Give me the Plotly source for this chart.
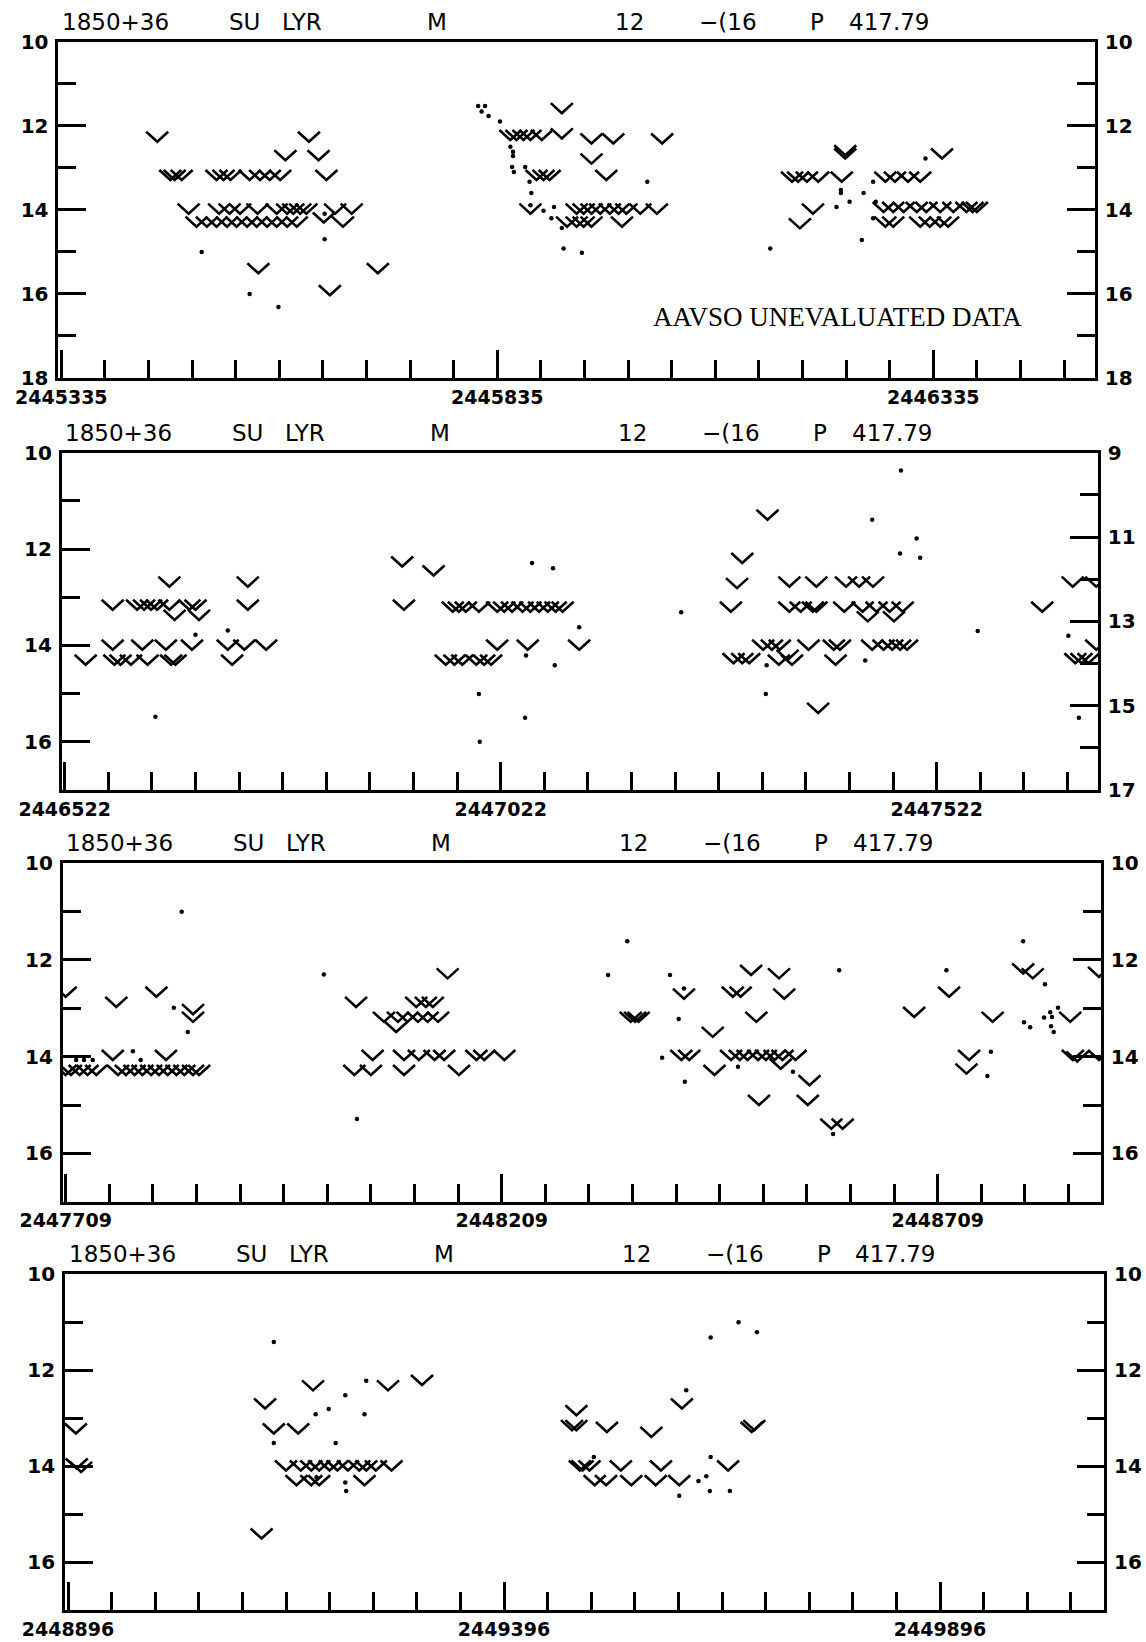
import plotly.graph_objects as go

W, H = 1146, 1642
PXD = 0.872  # pixels per day (layout only)

# ---------------- data ----------------
panel_starts = [2445335, 2446522, 2447709, 2448896]
x_tick_labels = [["2445335", "2445835", "2446335"],
                 ["2446522", "2447022", "2447522"],
                 ["2447709", "2448209", "2448709"],
                 ["2448896", "2449396", "2449896"]]
left_ranges = [(18, 10), (17, 10), (17, 10), (17, 10)]
right_ranges = [(18, 10), (17, 9), (17, 10), (17, 10)]
header_words = ["1850+36", "SU", "LYR", "M", "12", "\u2212(16", "P", "417.79"]
note_text = "AAVSO UNEVALUATED DATA"

# panel 1 : fainter-than (V) observations, days after panel start
p1_v_day = [110, 125, 130, 138, 178, 186, 194, 216, 228, 239, 251, 257, 284, 295, 304,
            146, 181, 193, 205, 225, 247, 259, 266, 274, 281, 314, 333,
            155, 167, 178, 190, 201, 213, 224, 236, 247, 259, 270, 301, 323,
            226, 308, 363,
            574, 515, 522, 530, 538, 551, 574, 608, 633, 689, 608, 545, 553, 560, 625, 538,
            591, 599, 608, 618, 629, 639, 648, 664, 683,
            580, 591, 599, 608, 643,
            838, 845, 855, 868, 899, 899, 895, 847, 862, 1010,
            945, 956, 971, 985,
            943, 954, 966, 981, 992, 1008, 1023, 1038, 1045, 1050,
            945, 954, 985, 996, 1008, 1017]
p1_v_mag = [12.38, 13.29, 13.29, 13.29, 13.29, 13.29, 13.29, 13.29, 13.29, 13.29, 13.29, 12.82, 12.38, 12.82, 13.29,
            14.09, 14.09, 14.09, 14.09, 14.09, 14.09, 14.09, 14.09, 14.09, 14.09, 14.09, 14.09,
            14.40, 14.40, 14.40, 14.40, 14.40, 14.40, 14.40, 14.40, 14.40, 14.40, 14.40, 14.30, 14.40,
            15.51, 16.03, 15.51,
            11.70, 12.34, 12.34, 12.34, 12.34, 12.34, 12.30, 12.42, 12.42, 12.42, 12.90, 13.29, 13.29, 13.29, 13.29, 14.09,
            14.09, 14.09, 14.09, 14.09, 14.09, 14.09, 14.09, 14.09, 14.09,
            14.40, 14.40, 14.40, 14.40, 14.40,
            13.33, 13.33, 13.33, 13.33, 12.78, 12.70, 13.33, 14.44, 14.09, 12.78,
            13.33, 13.33, 13.33, 13.33,
            14.05, 14.05, 14.05, 14.05, 14.05, 14.05, 14.05, 14.05, 14.05, 14.05,
            14.40, 14.40, 14.40, 14.40, 14.40, 14.40]
p1_dot_day = [161, 216, 249, 302, 302,
              478, 486, 482, 490, 503, 515, 518, 518, 517, 519, 532, 537, 539, 538, 553, 565, 562, 574, 576, 597, 672, 813,
              889, 894, 894, 904, 920, 918, 931, 934, 931, 991]
p1_dot_mag = [15.00, 16.00, 16.31, 14.09, 14.70,
              11.53, 11.53, 11.66, 11.77, 11.90, 12.50, 12.62, 12.72, 12.98, 13.10, 12.98, 13.33, 13.60, 13.89, 14.02, 13.93, 14.20, 14.43, 14.92, 15.02, 13.33, 14.92,
              13.93, 13.53, 13.60, 13.81, 13.60, 14.72, 13.33, 13.81, 14.20, 12.78]

# panel 2
p2_v_day = [24,
            55, 83, 91, 99, 106, 120, 143, 150, 210,
            126, 154, 120, 210,
            55, 89, 116, 146, 187, 206, 231,
            57, 64, 76, 95, 122, 127, 192,
            387, 389, 423,
            445, 452, 460, 475, 496, 504, 513, 525, 534, 544, 554, 563, 571,
            437, 447, 456, 472, 481, 489,
            496, 531, 590,
            764, 771, 777, 806,
            767, 777, 785, 801, 811, 820, 829,
            831, 862, 896, 911, 927,
            831, 844, 858, 862, 894, 915, 931, 946, 961,
            921, 951,
            853, 882, 889, 926, 939, 949, 958, 966,
            819, 834, 884, 864,
            1121, 1156, 1183, 1183, 1159, 1166, 1174]
p2_v_mag = [14.40,
            13.26, 13.26, 13.26, 13.26, 13.26, 13.26, 13.26, 13.26, 13.26,
            13.47, 13.47, 12.78, 12.78,
            14.09, 14.09, 14.09, 14.09, 14.09, 14.09, 14.09,
            14.40, 14.40, 14.40, 14.40, 14.40, 14.40, 14.40,
            12.36, 13.26, 12.55,
            13.30, 13.30, 13.30, 13.30, 13.30, 13.30, 13.30, 13.30, 13.30, 13.30, 13.30, 13.30, 13.30,
            14.40, 14.40, 14.40, 14.40, 14.40, 14.40,
            14.09, 14.09, 14.09,
            13.30, 12.81, 12.29, 11.39,
            14.37, 14.37, 14.37, 14.09, 14.09, 14.09, 14.30,
            12.78, 12.78, 12.78, 12.78, 12.78,
            13.30, 13.30, 13.30, 13.30, 13.30, 13.30, 13.30, 13.30, 13.30,
            13.50, 13.50,
            14.09, 14.09, 14.09, 14.09, 14.09, 14.09, 14.09, 14.09,
            14.40, 14.40, 14.40, 15.40,
            13.30, 12.78, 12.78, 14.09, 14.37, 14.37, 14.37]
p2_dot_day = [187, 104, 150, 536, 560, 590, 529, 562, 475, 528, 476, 707, 805, 804,
              959, 926, 977, 958, 981, 918, 1047, 1151, 1163]
p2_dot_mag = [13.69, 15.48, 13.78, 12.29, 12.40, 13.62, 14.21, 14.41, 15.01, 15.50, 16.00, 13.31, 14.41, 15.01,
              10.37, 11.39, 11.78, 12.09, 12.18, 14.31, 13.70, 13.80, 15.50]

# panel 3
p3_v_day = [0, 58, 104, 146, 146,
            0, 6, 16, 25, 35, 60, 69, 79, 88, 98, 107, 117, 127, 136, 146, 153,
            54, 115, 333,
            365, 381, 392, 404, 415, 427, 379,
            402, 413, 421,
            352, 388, 405, 423, 434, 471, 480, 503,
            331, 350, 388, 451, 438,
            648, 653, 657,
            709, 765, 774, 786, 818, 824, 792, 742,
            706, 715, 763, 773, 782, 794, 803, 813, 822, 837,
            744, 820, 795,
            853, 851, 878, 891, 973, 1013, 1063, 1036, 1033, 1098, 1109, 1152, 1185, 1155, 1185, 1160]
p3_v_mag = [12.76, 12.97, 12.76, 13.28, 13.12,
            14.38, 14.38, 14.38, 14.38, 14.38, 14.38, 14.38, 14.38, 14.38, 14.38, 14.38, 14.38, 14.38, 14.38, 14.38, 14.38,
            14.07, 14.07, 12.97,
            13.28, 13.28, 13.28, 13.28, 13.28, 13.28, 13.49,
            12.97, 12.97, 12.97,
            14.07, 14.07, 14.07, 14.07, 14.07, 14.07, 14.07, 14.07,
            14.38, 14.38, 14.38, 14.38, 12.38,
            13.28, 13.28, 13.28,
            12.80, 12.76, 12.76, 12.31, 12.38, 12.80, 13.28, 13.59,
            14.07, 14.07, 14.07, 14.07, 14.07, 14.07, 14.07, 14.07, 14.07, 14.07,
            14.38, 14.25, 15.00,
            14.59, 15.00, 15.49, 15.49, 13.18, 12.76, 13.28, 14.07, 14.35, 12.28, 12.38, 13.28, 12.35, 14.07, 14.07, 14.10]
p3_dot_day = [133, 124, 140, 77, 86, 21, 31, 12, 296, 334,
              644, 622, 693, 709, 703, 684, 710, 771, 834, 880, 887, 1010, 1061, 1057,
              1098, 1123, 1099, 1106, 1122, 1129, 1138, 1130, 1133, 1131]
p3_dot_mag = [11.00, 12.99, 13.49, 13.89, 14.07, 14.07, 14.07, 14.07, 12.30, 15.29,
              11.61, 12.31, 12.31, 12.59, 13.22, 14.02, 14.52, 14.21, 14.31, 15.60, 12.21, 12.21, 13.90, 14.40,
              11.61, 12.50, 13.29, 13.39, 13.19, 13.08, 12.99, 13.37, 13.49, 13.18]

# panel 4
p4_v_day = [9, 15, 10,
            226, 236, 264, 281, 222, 367, 406,
            250, 267, 279, 288, 300, 309, 321, 334, 342, 353, 371,
            262, 279, 288, 340,
            583, 583, 578, 618, 669, 704, 784, 787,
            587, 590, 598, 634, 680, 757,
            604, 617, 646, 674, 701]
p4_v_mag = [13.32, 14.12, 14.05,
            12.80, 13.32, 13.32, 12.42, 15.51, 12.42, 12.31,
            14.09, 14.09, 14.09, 14.09, 14.09, 14.09, 14.09, 14.09, 14.09, 14.09, 14.09,
            14.40, 14.40, 14.40, 14.40,
            12.94, 13.25, 13.25, 13.29, 13.39, 12.80, 13.29, 13.25,
            14.09, 14.09, 14.09, 14.09, 14.09, 14.09,
            14.40, 14.40, 14.40, 14.40, 14.40]
p4_dot_day = [236, 236, 284, 299, 318, 342, 340, 307, 318, 319, 285,
              709, 737, 769, 790, 603, 737, 701, 723, 732, 736, 759]
p4_dot_mag = [11.41, 13.52, 12.92, 12.81, 12.52, 12.22, 12.92, 13.52, 14.34, 14.52, 14.23,
              12.42, 11.32, 11.00, 11.21, 13.81, 13.81, 14.62, 14.31, 14.21, 14.52, 14.52]

v_days = [p1_v_day, p2_v_day, p3_v_day, p4_v_day]
v_mags = [p1_v_mag, p2_v_mag, p3_v_mag, p4_v_mag]
dot_days = [p1_dot_day, p2_dot_day, p3_dot_day, p4_dot_day]
dot_mags = [p1_dot_mag, p2_dot_mag, p3_dot_mag, p4_dot_mag]

# ---------------- layout geometry (pixels) ----------------
panels_px = [(58.3, 1095.0, 41.7, 378.0),
             (61.7, 1098.0, 452.7, 790.0),
             (62.7, 1101.0, 863.3, 1201.7),
             (65.0, 1104.3, 1274.3, 1610.0)]
header_dx = [1.7, 168.7, 221.7, 366.7, 554.7, 638.7, 749.7, 788.4]


def fx(px):
    return px / W


def fy(py):
    return 1 - py / H


BLACK = "black"
tick_font_x = dict(family="DejaVu Sans", size=19, color=BLACK, weight="bold")
tick_font_y = dict(family="DejaVu Sans", size=20, color=BLACK, weight="bold")

fig = go.Figure()
layout = dict(width=W, height=H, margin=dict(l=0, r=0, t=0, b=0, autoexpand=False),
              paper_bgcolor="white", plot_bgcolor="white", showlegend=False)
annotations = []

V_HALF_PX, V_H_PX = 11.0, 10.0

for i in range(4):
    L, R, T, B = panels_px[i]
    start = panel_starts[i]
    xa = "x" if i == 0 else f"x{i+1}"
    ya = "y" if i == 0 else f"y{i+1}"
    lo, hi = left_ranges[i]
    ppm = (B - T) / (lo - hi)
    half_w = V_HALF_PX / PXD
    vh = V_H_PX / ppm

    xs, ys = [], []
    for d, m in zip(v_days[i], v_mags[i]):
        x = start + d
        xs += [x - half_w, x, x + half_w, None]
        ys += [m - vh, m, m - vh, None]
    fig.add_trace(go.Scatter(x=xs, y=ys, mode="lines", xaxis=xa, yaxis=ya,
                             line=dict(color=BLACK, width=2.6), hoverinfo="skip"))
    fig.add_trace(go.Scatter(x=[start + d for d in dot_days[i]], y=dot_mags[i], mode="markers",
                             xaxis=xa, yaxis=ya, marker=dict(color=BLACK, size=4.5),
                             hoverinfo="skip"))

    xk = "xaxis" if i == 0 else f"xaxis{i+1}"
    yk = "yaxis" if i == 0 else f"yaxis{i+1}"
    yrk = f"yaxis{i+5}"
    x_lo = start - 3.0 / PXD
    x_hi = start + (R - L - 3.0) / PXD
    layout[xk] = dict(domain=[fx(L), fx(R)], range=[x_lo, x_hi], anchor=ya, automargin=False,
                      showline=True, linecolor=BLACK, linewidth=2.6, mirror=True,
                      showgrid=False, zeroline=False,
                      tickmode="array", tickvals=[start, start + 500, start + 1000],
                      ticktext=x_tick_labels[i],
                      ticks="inside", ticklen=28, tickwidth=2.5, tickcolor=BLACK,
                      minor=dict(tickmode="array",
                                 tickvals=[start + 50 * k for k in range(1, 24) if k % 10],
                                 ticks="inside", ticklen=18, tickwidth=2.5, tickcolor=BLACK),
                      tickfont=tick_font_x, ticklabelstandoff=0)
    layout[yk] = dict(domain=[fy(B), fy(T)], range=[lo, hi], anchor=xa, automargin=False,
                      showline=True, linecolor=BLACK, linewidth=2.6,
                      showgrid=False, zeroline=False,
                      tick0=hi, dtick=2, ticks="inside", ticklen=28, tickwidth=2.5, tickcolor=BLACK,
                      minor=dict(tick0=hi, dtick=1, ticks="inside", ticklen=18,
                                 tickwidth=2.5, tickcolor=BLACK),
                      tickfont=tick_font_y, ticklabelstandoff=3)
    rlo, rhi = right_ranges[i]
    layout[yrk] = dict(overlaying=ya, side="right", anchor=xa, range=[rlo, rhi], automargin=False,
                       showline=True, linecolor=BLACK, linewidth=2.6,
                       showgrid=False, zeroline=False,
                       tick0=rhi, dtick=2, ticks="inside", ticklen=28, tickwidth=2.5, tickcolor=BLACK,
                       minor=dict(tick0=rhi, dtick=1, ticks="inside", ticklen=18,
                                  tickwidth=2.5, tickcolor=BLACK),
                       tickfont=tick_font_y, ticklabelstandoff=3)

    for word, dx in zip(header_words, header_dx):
        annotations.append(dict(text=word, xref="paper", yref="paper",
                                x=fx(L + dx), y=fy(T - 20),
                                xanchor="left", yanchor="middle", showarrow=False,
                                font=dict(family="DejaVu Sans", size=23, color=BLACK)))

annotations.append(dict(text=note_text, xref="paper", yref="paper",
                        x=fx(651), y=fy(316.7), xanchor="left", yanchor="middle",
                        showarrow=False,
                        font=dict(family="Liberation Serif", size=27, color=BLACK)))
layout["annotations"] = annotations
fig.update_layout(**layout)

# empty traces so the right-hand axes render
for i in range(4):
    xa = "x" if i == 0 else f"x{i+1}"
    fig.add_trace(go.Scatter(x=[None], y=[None], xaxis=xa, yaxis=f"y{i+5}",
                             mode="markers", hoverinfo="skip"))

fig.write_html("out.html", config={"displayModeBar": False},
               post_script="document.body.style.margin='0px';document.body.style.overflow='hidden';")
